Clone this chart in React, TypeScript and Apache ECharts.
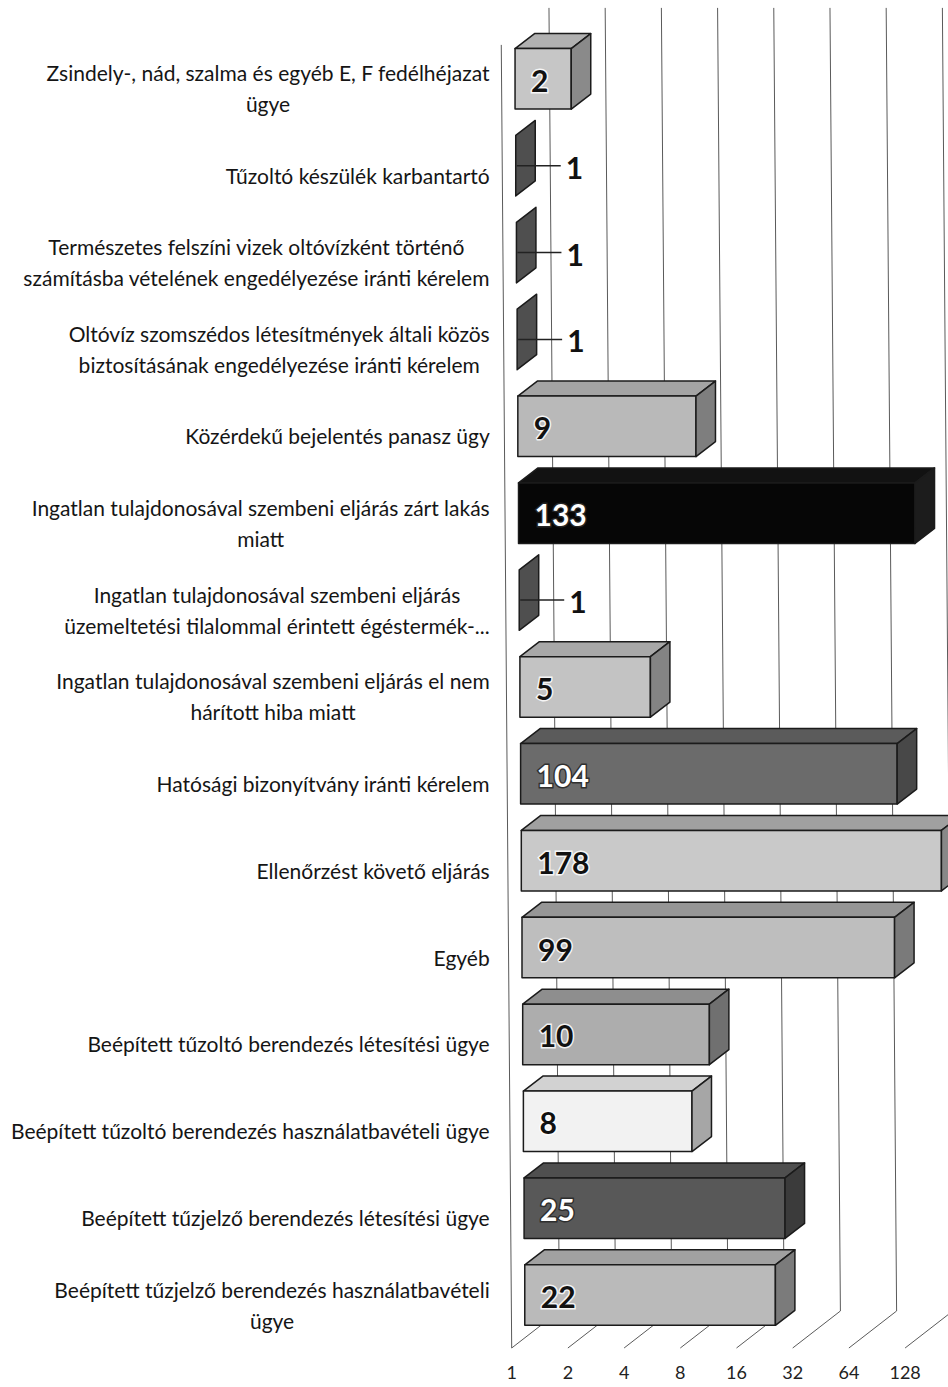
import React, { useEffect, useRef } from 'react';
import * as echarts from 'echarts';

const categories: string[] = [
  'Zsindely-, nád, szalma és egyéb E, F fedélhéjazat\nügye',
  'Tűzoltó készülék karbantartó',
  'Természetes felszíni vizek oltóvízként történő\nszámításba vételének engedélyezése iránti kérelem',
  'Oltóvíz szomszédos létesítmények általi közös\nbiztosításának engedélyezése iránti kérelem',
  'Közérdekű bejelentés panasz ügy',
  'Ingatlan tulajdonosával szembeni eljárás zárt lakás\nmiatt',
  'Ingatlan tulajdonosával szembeni eljárás\nüzemeltetési tilalommal érintett égéstermék-...',
  'Ingatlan tulajdonosával szembeni eljárás el nem\nhárított hiba miatt',
  'Hatósági bizonyítvány iránti kérelem',
  'Ellenőrzést követő eljárás',
  'Egyéb',
  'Beépített tűzoltó berendezés létesítési ügye',
  'Beépített tűzoltó berendezés használatbavételi ügye',
  'Beépített tűzjelző berendezés létesítési ügye',
  'Beépített tűzjelző berendezés használatbavételi\nügye',
];

const values: number[] = [2, 1, 1, 1, 9, 133, 1, 5, 104, 178, 99, 10, 8, 25, 22];

const axisTickValues: number[] = [1, 2, 4, 8, 16, 32, 64, 128];

type Shade = { front: string; top: string; side: string; text: string; halo: string };
const DARK_TXT = { text: '#111', halo: 'rgba(255,255,255,0.85)' };
const LIGHT_TXT = { text: '#fff', halo: 'rgba(40,40,40,0.9)' };
const slab: Shade = { front: '#4d4d4d', top: '#4d4d4d', side: '#4f4f4f', ...DARK_TXT };
const shades: Shade[] = [
  { front: '#c6c6c6', top: '#b1b1b1', side: '#8a8a8a', ...DARK_TXT },
  slab,
  slab,
  slab,
  { front: '#b9b9b9', top: '#a4a4a4', side: '#7e7e7e', ...DARK_TXT },
  { front: '#060606', top: '#121212', side: '#1c1c1c', ...LIGHT_TXT },
  slab,
  { front: '#c3c3c3', top: '#a8a8a8', side: '#848484', ...DARK_TXT },
  { front: '#6b6b6b', top: '#5b5b5b', side: '#484848', ...LIGHT_TXT },
  { front: '#c9c9c9', top: '#a0a0a0', side: '#888888', ...DARK_TXT },
  { front: '#bebebe', top: '#969696', side: '#7a7a7a', ...DARK_TXT },
  { front: '#adadad', top: '#8e8e8e', side: '#707070', ...DARK_TXT },
  { front: '#f2f2f2', top: '#d2d2d2', side: '#a6a6a6', ...DARK_TXT },
  { front: '#585858', top: '#4f4f4f', side: '#3b3b3b', ...LIGHT_TXT },
  { front: '#bababa', top: '#a1a1a1', side: '#7b7b7b', ...DARK_TXT },
];

const FONT = 'Lato, "Open Sans", sans-serif';
const BAR_DEPTH_X = 19.5;
const BAR_DEPTH_Y = -15;
const WALL_DEPTH_X = 48;
const WALL_DEPTH_Y = -37;
const SHEAR = 0.008;
const BAR_INSET = 13.5;
const FRONT_LIFT = 9.5;
const BAR_FILL = 0.6965;

export default function App() {
  const ref = useRef<HTMLDivElement>(null);

  useEffect(() => {
    const chart = echarts.init(ref.current as HTMLDivElement, null, { renderer: 'svg' });

    const wallRender = (params: any, api: any) => {
      const cs = params.coordSys;
      const floorY = cs.y + cs.height;
      const v = api.value(0);
      const xv = api.coord([v, 0])[0];
      const sh = (y: number) => (y - floorY) * SHEAR;
      const backTop = cs.y + WALL_DEPTH_Y;
      const backBot = floorY + WALL_DEPTH_Y;
      const children: any[] = [
        {
          type: 'polyline',
          shape: {
            points: [
              [xv + WALL_DEPTH_X + sh(backTop), backTop],
              [xv + WALL_DEPTH_X + sh(backBot), backBot],
              [xv, floorY],
            ],
          },
          style: { stroke: '#5a5a5a', lineWidth: 1, fill: 'none' },
        },
      ];
      if (params.dataIndex === 0) {
        children.push({
          type: 'line',
          shape: { x1: xv + sh(cs.y), y1: cs.y, x2: xv, y2: floorY },
          style: { stroke: '#5a5a5a', lineWidth: 1 },
        });
      }
      return { type: 'group', children };
    };

    const barRender = (params: any, api: any) => {
      const cs = params.coordSys;
      const floorY = cs.y + cs.height;
      const v = api.value(0);
      const k = api.value(1);
      const pv = api.coord([v, k]);
      const p1 = api.coord([1, k]);
      const h = api.size([1, 1])[1] * BAR_FILL;
      const yf = pv[1] - FRONT_LIFT;
      const s = (yf - floorY) * SHEAR;
      const xl = p1[0] + s + BAR_INSET;
      const xr = pv[0] + s + BAR_INSET;
      const yt = yf - h / 2;
      const yb = yf + h / 2;
      const dx = BAR_DEPTH_X;
      const dy = BAR_DEPTH_Y;
      const c = shades[params.dataIndex];
      const edge = { stroke: '#1b1b1b', lineWidth: 1.5, lineJoin: 'round' };
      const children: any[] = [];
      if (xr - xl > 0.5) {
        children.push({
          type: 'polygon',
          shape: { points: [[xl, yt], [xr, yt], [xr + dx, yt + dy], [xl + dx, yt + dy]] },
          style: { fill: c.top, ...edge },
        });
        children.push({
          type: 'rect',
          shape: { x: xl, y: yt, width: xr - xl, height: yb - yt },
          style: { fill: c.front, ...edge },
        });
      }
      children.push({
        type: 'polygon',
        shape: { points: [[xr, yt], [xr + dx, yt + dy], [xr + dx, yb + dy], [xr, yb]] },
        style: { fill: c.side, ...edge },
      });
      const label = String(v);
      if (v <= 1) {
        children.push({
          type: 'line',
          shape: { x1: xr + 1, y1: yf, x2: xr + 45, y2: yf },
          style: { stroke: '#222', lineWidth: 1.5 },
        });
        children.push({
          type: 'text',
          style: {
            text: label, x: xr + 50, y: yf + 1, align: 'left', verticalAlign: 'middle',
            fontFamily: FONT, fontWeight: 'bold', fontSize: 30, fill: '#111',
          },
        });
      } else {
        children.push({
          type: 'text',
          style: {
            text: label, x: xl + 16, y: yf + 1, align: 'left', verticalAlign: 'middle',
            fontFamily: FONT, fontWeight: 'bold', fontSize: 30, fill: c.text,
            stroke: c.halo, lineWidth: 3,
          },
        });
      }
      return { type: 'group', children };
    };

    const option: any = {
      animation: false,
      backgroundColor: '#ffffff',
      grid: {
        left: 511.7,
        top: 44.9,
        width: 449.6,
        height: 1303.1,
        containLabel: false,
        outerBoundsMode: 'none',
      },
      xAxis: {
        type: 'log',
        logBase: 2,
        min: 1,
        max: 256,
        interval: 1,
        axisLine: { show: false },
        axisTick: { show: false },
        splitLine: { show: false },
        axisLabel: {
          margin: 15,
          fontFamily: FONT,
          fontSize: 18,
          color: '#222',
          formatter: (val: number) => {
            const r = Math.round(val);
            return axisTickValues.includes(r) ? String(r) : '';
          },
        },
      },
      yAxis: {
        type: 'category',
        inverse: true,
        data: categories,
        axisLine: { show: false },
        axisTick: { show: false },
        splitLine: { show: false },
        axisLabel: {
          interval: 0,
          margin: 22,
          formatter: (val: string) => val.split('\n').map((l) => `{c|${l}}`).join('\n'),
          rich: {
            c: { align: 'center', fontFamily: FONT, fontSize: 21, lineHeight: 31, color: '#151515' },
          },
        },
      },
      series: [
        {
          type: 'custom',
          name: 'walls',
          z: 1,
          renderItem: wallRender,
          encode: { x: 0, y: 1 },
          data: axisTickValues.map((t) => [t, 0]),
          silent: true,
        },
        {
          type: 'custom',
          name: 'bars',
          z: 3,
          renderItem: barRender,
          encode: { x: 0, y: 1 },
          data: values.map((v, i) => [v, i]),
        },
      ],
    };

    chart.setOption(option);
    return () => chart.dispose();
  }, []);

  return (
    <div
      ref={ref}
      style={{ position: 'absolute', left: 0, top: 0, width: 948, height: 1387, background: '#fff' }}
    />
  );
}
